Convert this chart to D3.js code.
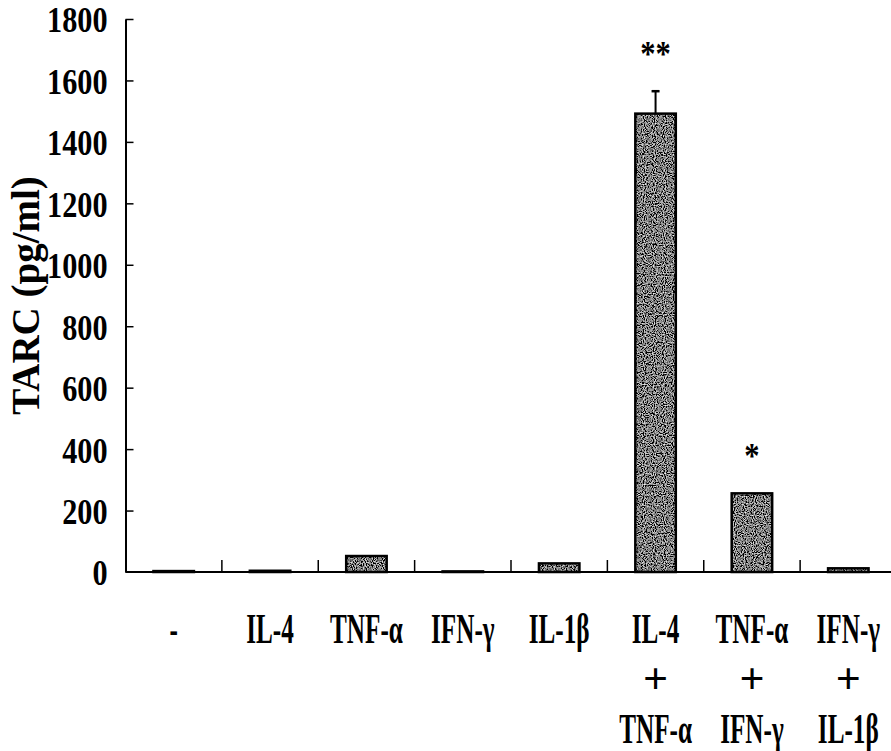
<!DOCTYPE html>
<html>
<head>
<meta charset="utf-8">
<script src="https://cdn.jsdelivr.net/npm/d3@7"></script>
<style>
  body { margin: 0; background: #fff; }
  svg text { font-family: "Liberation Serif", "Times New Roman", serif; font-weight: bold; fill: #000; }
</style>
</head>
<body>
<script>
// chart values
const categories = ["-", "IL-4", "TNF-α", "IFN-γ", "IL-1β", "IL-4 + TNF-α", "TNF-α + IFN-γ", "IFN-γ + IL-1β"];
const tarc = [3, 4, 52, 2, 28, 1492, 256, 12];
const sd = [0, 0, 0, 0, 0, 73, 0, 0];
const marks = ["", "", "", "", "", "**", "*", ""];
const yTicks = [0, 200, 400, 600, 800, 1000, 1200, 1400, 1600, 1800];

const w = 891;
const h = 751;

const data = categories.map((c, i) => ({ name: c, value: tarc[i], sd: sd[i], mark: marks[i] }));

const x = d3.scaleBand()
    .domain(categories)
    .range([125.5, 896.5])
    .paddingInner(0.58)
    .paddingOuter(0.29);

const y = d3.scaleLinear()
    .domain([0, 1800])
    .range([572, 19]);

const svg = d3.select("body")
    .append("svg")
    .attr("width", w)
    .attr("height", h);

// grainy fill like the scanned bars
const defs = svg.append("defs");
const grain = defs.append("filter")
    .attr("id", "grain")
    .attr("x", 0).attr("y", 0).attr("width", 1).attr("height", 1);
grain.append("feTurbulence")
    .attr("type", "fractalNoise")
    .attr("baseFrequency", 0.9)
    .attr("numOctaves", 1)
    .attr("seed", 3)
    .attr("result", "noise");
grain.append("feColorMatrix")
    .attr("in", "noise")
    .attr("type", "matrix")
    .attr("values", "2.2 0 0 0 -0.88  2.2 0 0 0 -0.88  2.2 0 0 0 -0.88  0 0 0 0 1")
    .attr("result", "gray");
grain.append("feComposite")
    .attr("in", "gray")
    .attr("in2", "SourceGraphic")
    .attr("operator", "in");

// squeeze text horizontally, the scan uses a condensed bold face
function squeeze(sel, factor) {
    sel.each(function () {
        const len = this.getComputedTextLength();
        d3.select(this)
            .attr("textLength", len * factor)
            .attr("lengthAdjust", "spacingAndGlyphs");
    });
}

// y axis
const yAxis = svg.append("g")
    .attr("transform", "translate(125.5,0)")
    .call(d3.axisLeft(y)
        .tickValues(yTicks)
        .tickFormat(d3.format("d"))
        .tickSizeInner(-8)
        .tickSizeOuter(0)
        .tickPadding(18));
yAxis.select(".domain").attr("stroke", "#000").attr("stroke-width", 2);
yAxis.selectAll(".tick line").attr("stroke", "#000").attr("stroke-width", 1.5)
    .attr("display", d => (d === 0 ? "none" : null));
yAxis.selectAll(".tick text")
    .attr("font-family", "Liberation Serif, Times New Roman, serif")
    .attr("font-weight", "bold")
    .attr("font-size", 36)
    .attr("fill", "#000")
    .attr("dy", "0.36em")
    .call(squeeze, 0.84);

svg.append("text")
    .attr("transform", `translate(39,${(173 + 418) / 2}) rotate(-90)`)
    .attr("text-anchor", "middle")
    .attr("font-size", 39)
    .text("TARC (pg/ml)");

// bars
const bars = svg.append("g");
bars.selectAll("rect.fill")
    .data(data)
    .enter()
    .append("rect")
    .attr("class", "fill")
    .attr("x", d => x(d.name))
    .attr("y", d => y(d.value))
    .attr("width", x.bandwidth())
    .attr("height", d => y(0) - y(d.value))
    .attr("fill", "#000")
    .attr("filter", "url(#grain)");
bars.selectAll("rect.edge")
    .data(data)
    .enter()
    .append("rect")
    .attr("class", "edge")
    .attr("x", d => x(d.name))
    .attr("y", d => y(d.value))
    .attr("width", x.bandwidth())
    .attr("height", d => y(0) - y(d.value))
    .attr("fill", "none")
    .attr("stroke", "#000")
    .attr("stroke-width", 2.5);

// error bars
const errs = data.filter(d => d.sd > 0);
const cx = d => x(d.name) + x.bandwidth() / 2;
svg.selectAll("line.err")
    .data(errs)
    .enter()
    .append("line")
    .attr("x1", cx).attr("x2", cx)
    .attr("y1", d => y(d.value))
    .attr("y2", d => y(d.value + d.sd))
    .attr("stroke", "#000")
    .attr("stroke-width", 2);
svg.selectAll("line.cap")
    .data(errs)
    .enter()
    .append("line")
    .attr("x1", d => cx(d) - 4).attr("x2", d => cx(d) + 4)
    .attr("y1", d => y(d.value + d.sd))
    .attr("y2", d => y(d.value + d.sd))
    .attr("stroke", "#000")
    .attr("stroke-width", 2.5);

// significance marks
svg.selectAll("text.mark")
    .data(data.filter(d => d.mark))
    .enter()
    .append("text")
    .attr("x", cx)
    .attr("y", d => y(d.value + d.sd) - 25)
    .attr("text-anchor", "middle")
    .attr("font-size", 36)
    .text(d => d.mark)
    .call(squeeze, 0.85);

// x baseline and separators
svg.append("line")
    .attr("x1", 125.5).attr("x2", w)
    .attr("y1", y(0)).attr("y2", y(0))
    .attr("stroke", "#000")
    .attr("stroke-width", 2);
const seps = categories.slice(1).map(c => x(c) - (x.step() - x.bandwidth()) / 2);
svg.selectAll("line.sep")
    .data(seps.concat([x.range()[1]]))
    .enter()
    .append("line")
    .attr("x1", d => d).attr("x2", d => d)
    .attr("y1", y(0)).attr("y2", y(0) - 12)
    .attr("stroke", "#000")
    .attr("stroke-width", 1.5);

// category labels, combinations stacked on three rows
const rows = [643, 693, 743];
data.forEach(d => {
    const lines = d.name.includes(" + ") ? [d.name.split(" + ")[0], "+", d.name.split(" + ")[1]] : [d.name];
    lines.forEach((t, i) => {
        const lbl = svg.append("text")
            .attr("x", cx(d))
            .attr("y", rows[i])
            .attr("text-anchor", "middle")
            .attr("font-size", t === "+" ? 44 : 42)
            .attr("font-weight", t === "+" ? "normal" : "bold")
            .text(t);
        if (t !== "+") lbl.call(squeeze, 0.6);
    });
});
</script>
</body>
</html>
